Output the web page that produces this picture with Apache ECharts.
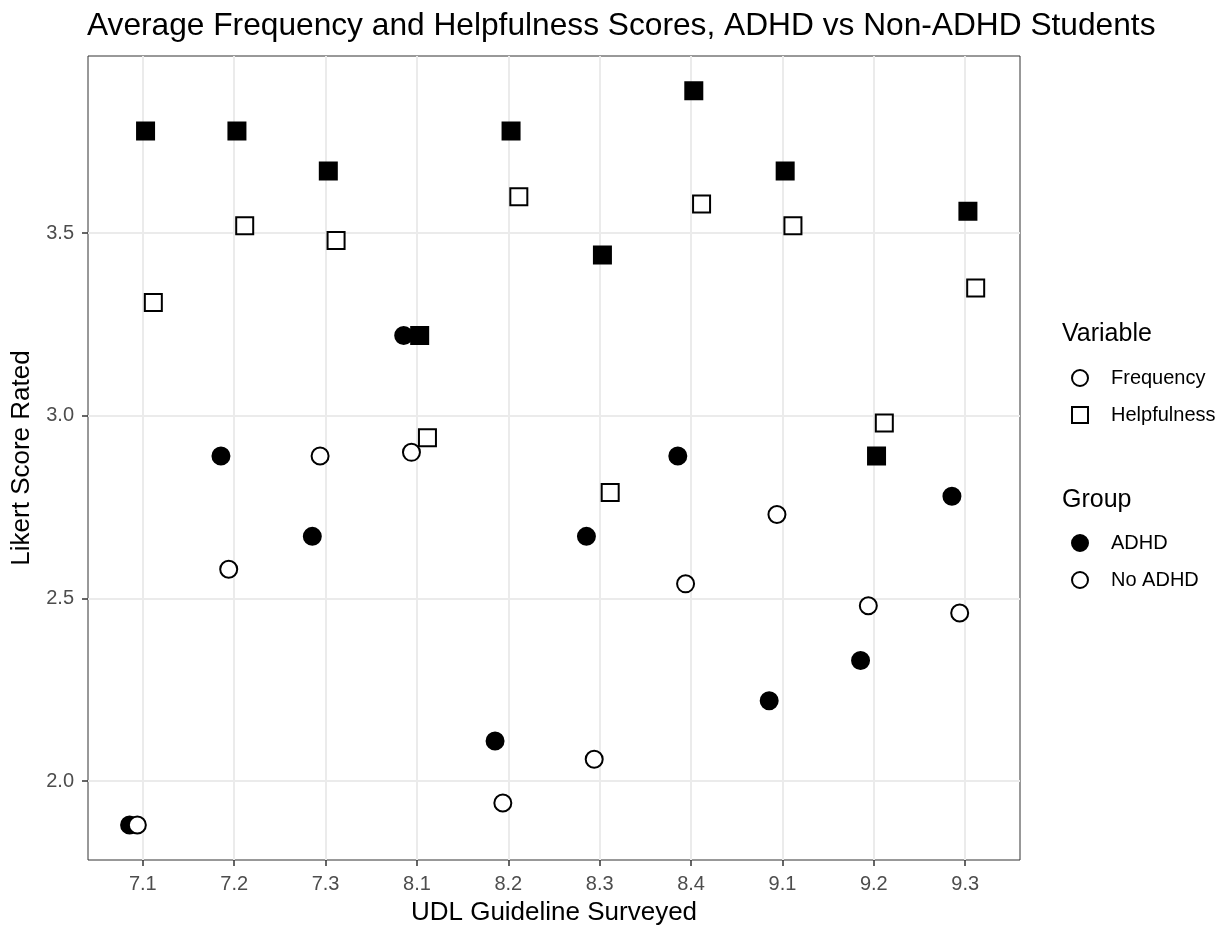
<!DOCTYPE html>
<html>
<head>
<meta charset="utf-8">
<script src="https://cdn.jsdelivr.net/npm/echarts@6/dist/echarts.min.js"></script>
<style>
  html, body { margin: 0; padding: 0; background: #fff; }
  #chart { width: 1230px; height: 927px; }
</style>
</head>
<body>
<div id="chart"></div>
<script>
// UDL guidelines on the x axis
const guidelines = ['7.1', '7.2', '7.3', '8.1', '8.2', '8.3', '8.4', '9.1', '9.2', '9.3'];
const yTicks = [2.0, 2.5, 3.0, 3.5];

// average Likert scores per guideline
const adhdFrequency = [1.88, 2.89, 2.67, 3.22, 2.11, 2.67, 2.89, 2.22, 2.33, 2.78];
const noAdhdFrequency = [1.88, 2.58, 2.89, 2.90, 1.94, 2.06, 2.54, 2.73, 2.48, 2.46];
const adhdHelpfulness = [3.78, 3.78, 3.67, 3.22, 3.78, 3.44, 3.89, 3.67, 2.89, 3.56];
const noAdhdHelpfulness = [3.31, 3.52, 3.48, 2.94, 3.60, 2.79, 3.58, 3.52, 2.98, 3.35];

const chart = echarts.init(document.getElementById('chart'));

// small dodge so the four groups don't sit on top of each other
const toPoints = (vals, shift) => vals.map((v, i) => [i + 1 + shift, v]);

const FONT = 'Liberation Sans, Arial, Helvetica, sans-serif';
const SIZE = 17;

const openStyle = { color: '#fff', borderColor: '#000', borderWidth: 2, opacity: 1 };
const fullStyle = { color: '#000', borderColor: '#000', borderWidth: 2, opacity: 1 };

const markSeries = (name, vals, shift, symbol, filled) => ({
  name: name,
  type: 'scatter',
  symbol: symbol,
  symbolSize: SIZE,
  data: toPoints(vals, shift),
  itemStyle: filled ? fullStyle : openStyle,
  emphasis: { disabled: true }
});

// empty series only used to feed the two legends
const legendOnly = (name, symbol, style) => ({
  name: name,
  type: 'scatter',
  symbol: symbol,
  itemStyle: style,
  data: []
});

const legendText = { fontFamily: FONT, fontSize: 20, color: '#000', padding: [0, 0, 0, 18] };

const option = {
  animation: false,
  title: [
    {
      text: 'Average Frequency and Helpfulness Scores, ADHD vs Non-ADHD Students',
      left: 82,
      top: 5,
      textStyle: { fontFamily: FONT, fontSize: 31.7, fontWeight: 'normal', color: '#000' }
    },
    {
      text: 'Variable',
      left: 1057,
      top: 317,
      textStyle: { fontFamily: FONT, fontSize: 25, fontWeight: 'normal', color: '#000' }
    },
    {
      text: 'Group',
      left: 1057,
      top: 483,
      textStyle: { fontFamily: FONT, fontSize: 25, fontWeight: 'normal', color: '#000' }
    }
  ],
  legend: [
    {
      left: 1066,
      top: 363,
      orient: 'vertical',
      itemWidth: 16,
      itemHeight: 16,
      itemGap: 17,
      selectedMode: false,
      textStyle: legendText,
      data: [
        { name: 'Frequency', icon: 'circle', itemStyle: openStyle },
        { name: 'Helpfulness', icon: 'rect', itemStyle: openStyle }
      ]
    },
    {
      left: 1066,
      top: 528,
      orient: 'vertical',
      itemWidth: 16,
      itemHeight: 16,
      itemGap: 17,
      selectedMode: false,
      textStyle: legendText,
      data: [
        { name: 'ADHD', icon: 'circle', itemStyle: fullStyle },
        { name: 'No ADHD', icon: 'circle', itemStyle: openStyle }
      ]
    }
  ],
  grid: {
    left: 88,
    right: 210,
    top: 56,
    bottom: 67,
    outerBoundsMode: 'none',
    show: true,
    borderColor: '#333',
    borderWidth: 1,
    backgroundColor: '#fff'
  },
  xAxis: {
    type: 'value',
    min: 0.4,
    max: 10.6,
    name: 'UDL Guideline Surveyed',
    nameLocation: 'middle',
    nameGap: 40,
    nameTextStyle: { fontFamily: FONT, fontSize: 26, color: '#000' },
    axisLine: { show: false },
    axisTick: {
      show: true,
      length: 6,
      customValues: guidelines.map((g, i) => i + 1),
      lineStyle: { color: '#333', width: 1.5 }
    },
    axisLabel: {
      customValues: guidelines.map((g, i) => i + 1),
      formatter: v => guidelines[Math.round(v) - 1] || '',
      fontFamily: FONT,
      fontSize: 20,
      color: '#4d4d4d',
      margin: 14
    },
    splitLine: { show: true, lineStyle: { color: '#ebebeb', width: 2 } }
  },
  yAxis: {
    type: 'value',
    min: 1.784,
    max: 3.985,
    name: 'Likert Score Rated',
    nameLocation: 'middle',
    nameGap: 49,
    nameTextStyle: { fontFamily: FONT, fontSize: 26, color: '#000' },
    axisLine: { show: false },
    axisTick: {
      show: true,
      length: 6,
      customValues: yTicks,
      lineStyle: { color: '#333', width: 1.5 }
    },
    axisLabel: {
      customValues: yTicks,
      formatter: v => v.toFixed(1),
      fontFamily: FONT,
      fontSize: 20,
      color: '#4d4d4d',
      margin: 14
    },
    splitLine: { show: true, lineStyle: { color: '#ebebeb', width: 2 } }
  },
  series: [
    markSeries('ADHD Frequency', adhdFrequency, -0.145, 'circle', true),
    markSeries('No ADHD Frequency', noAdhdFrequency, -0.06, 'circle', false),
    markSeries('ADHD Helpfulness', adhdHelpfulness, 0.03, 'rect', true),
    markSeries('No ADHD Helpfulness', noAdhdHelpfulness, 0.115, 'rect', false),
    legendOnly('Frequency', 'circle', openStyle),
    legendOnly('Helpfulness', 'rect', openStyle),
    legendOnly('ADHD', 'circle', fullStyle),
    legendOnly('No ADHD', 'circle', openStyle)
  ]
};

chart.setOption(option);
</script>
</body>
</html>
